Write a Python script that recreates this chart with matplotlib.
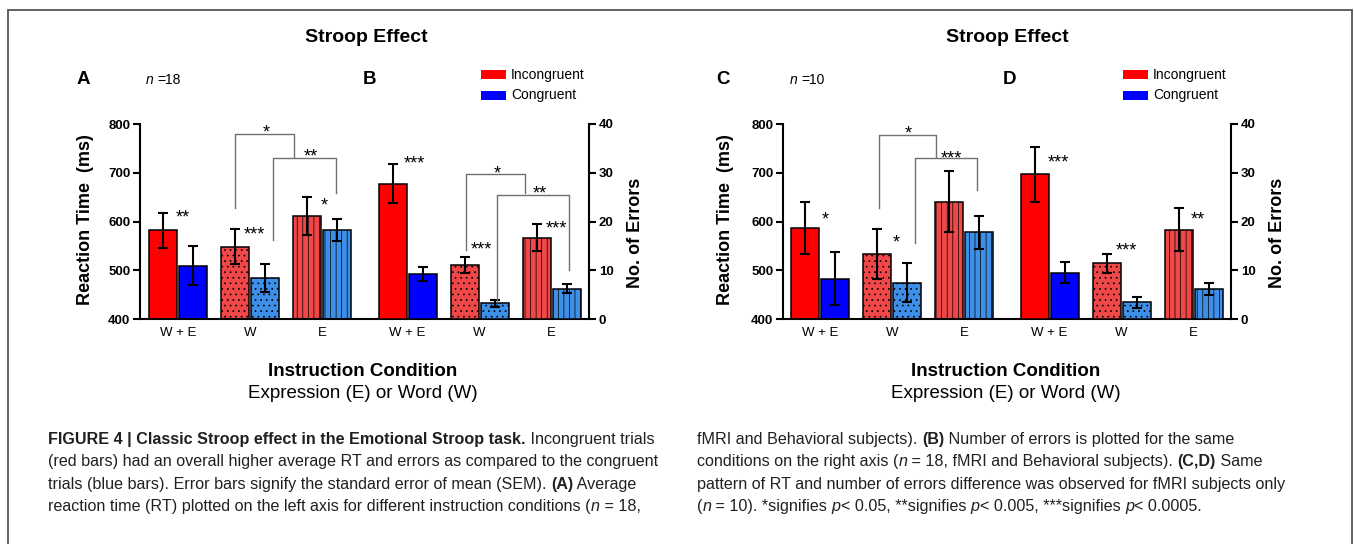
import matplotlib
matplotlib.use("Agg")
import matplotlib.pyplot as plt
import numpy as np
from matplotlib import font_manager
from matplotlib.patches import Rectangle

plt.rcParams['font.family'] = ['Liberation Sans', 'DejaVu Sans']
plt.rcParams['hatch.linewidth'] = 0.5

# -------------------------------------------------------
# DATA
# -------------------------------------------------------
conditions = ['W + E', 'W', 'E']

# n = 18 (panels A, B)
rt18_incong = [582, 548, 612]
rt18_incong_sem = [36, 36, 39]
rt18_cong = [509, 484, 583]
rt18_cong_sem = [40, 29, 23]
err18_incong = [27.7, 11.1, 16.7]
err18_incong_sem = [4.0, 1.6, 2.8]
err18_cong = [9.2, 3.2, 6.2]
err18_cong_sem = [1.4, 0.7, 0.9]

# n = 10 (panels C, D)
rt10_incong = [587, 534, 641]
rt10_incong_sem = [54, 51, 62]
rt10_cong = [483, 474, 578]
rt10_cong_sem = [55, 40, 34]
err10_incong = [29.7, 11.4, 18.3]
err10_incong_sem = [5.6, 1.9, 4.4]
err10_cong = [9.5, 3.4, 6.2]
err10_cong_sem = [2.1, 1.1, 1.2]

# significance stars: (label, x, y) in data units of the RT axis / error axis
stars18_rt = [('**', 0.07, 619), ('***', 1.06, 585), ('*', 2.03, 644)]
stars18_err = [('***', 3.28, 33.0), ('***', 4.22, 15.4), ('***', 5.25, 19.7)]
stars10_rt = [('*', 0.07, 615), ('*', 1.06, 568)]
stars10_err = [('***', 3.31, 33.2), ('***', 4.25, 15.2), ('**', 5.25, 21.5)]

# comparison brackets: x corners, y corners, label, label position
brackets18_rt = [([0.79, 0.79, 1.61, 1.61], [628, 779, 779, 732], '*', (1.22, 794)),
                 ([1.32, 1.32, 2.19, 2.19], [562, 730, 730, 658], '**', (1.85, 745))]
brackets18_err = [([4.0, 4.0, 4.82, 4.82], [14.2, 29.7, 29.7, 25.8], '*', (4.44, 31.0)),
                  ([4.43, 4.43, 5.43, 5.43], [3.5, 25.4, 25.4, 10.1], '**', (5.03, 26.9))]
brackets10_rt = [([0.82, 0.82, 1.61, 1.61], [628, 777, 777, 732], '*', (1.22, 792)),
                 ([1.32, 1.32, 2.18, 2.18], [556, 730, 730, 665], '***', (1.83, 740))]

inc_colors = ['#FF0000', '#F04848', '#F04848']
con_colors = ['#0000FF', '#3D8FE8', '#3D8FE8']
hatches = ['', '...', '|||']

W, H = 1354, 544
fig = plt.figure(figsize=(W / 100, H / 100), dpi=100)


def fx(px):
    return px / W


def fy(py):
    return 1 - py / H


def star(ax, s, x, y):
    # y is the centre of the asterisk glyphs
    ax.annotate(s, (x, y), xytext=(0, -7.5), textcoords='offset points',
                ha='center', va='baseline', fontsize=13, annotation_clip=False)


def panel(left_px, right_px, first_px, rt_i, rt_ie, rt_c, rt_ce, er_i, er_ie, er_c, er_ce,
          stars_rt, stars_err, br_rt, br_err):
    ax = fig.add_axes([fx(left_px), fy(319), (right_px - left_px) / W, 195 / H])
    ax2 = ax.twinx()
    pos_rt = np.arange(3)
    pos_er = np.arange(3) + 3.19
    off, bw = 0.21, 0.39
    groups = [(ax, pos_rt, rt_i, rt_ie, rt_c, rt_ce), (ax2, pos_er, er_i, er_ie, er_c, er_ce)]
    for a, pos, inc, inc_e, con, con_e in groups:
        for i in range(3):
            a.bar(pos[i] - off, inc[i], bw, color=inc_colors[i], edgecolor='black',
                  linewidth=1.1, hatch=hatches[i])
            a.bar(pos[i] + off, con[i], bw, color=con_colors[i], edgecolor='black',
                  linewidth=1.1, hatch=hatches[i])
        a.errorbar(pos - off, inc, yerr=inc_e, fmt='none', ecolor='black',
                   elinewidth=1.5, capsize=3.5, capthick=1.5)
        a.errorbar(pos + off, con, yerr=con_e, fmt='none', ecolor='black',
                   elinewidth=1.5, capsize=3.5, capthick=1.5)

    ax.set_ylim(400, 800)
    ax.set_yticks([400, 500, 600, 700, 800])
    ax2.set_ylim(0, 40)
    ax2.set_yticks([0, 10, 20, 30, 40])
    x0 = (left_px - first_px) / 72
    ax.set_xlim(x0, x0 + (right_px - left_px) / 72)
    ax2.set_xlim(ax.get_xlim())

    ax.set_xticks(np.concatenate([pos_rt, pos_er]))
    ax.set_xticklabels(conditions * 2, fontsize=9.5)
    ax.tick_params(axis='x', length=0, pad=6)
    for a in (ax, ax2):
        a.tick_params(axis='y', direction='out', length=5, width=1.5, labelsize=9.5, pad=2)
        for lab in a.get_yticklabels():
            lab.set_fontweight('bold')
    ax.spines['top'].set_visible(False)
    ax.spines['right'].set_visible(False)
    ax.spines['left'].set_linewidth(1.5)
    ax.spines['bottom'].set_linewidth(1.5)
    for s in ('top', 'left', 'bottom'):
        ax2.spines[s].set_visible(False)
    ax2.spines['right'].set_linewidth(1.5)

    for s, x, y in stars_rt:
        star(ax, s, x, y)
    for s, x, y in stars_err:
        star(ax2, s, x, y)
    for a, brs in ((ax, br_rt), (ax2, br_err)):
        for xs, ys, s, (tx, ty) in brs:
            a.plot(xs, ys, color='#707070', lw=1.0, clip_on=False)
            star(a, s, tx, ty)
    return ax, ax2


panel(140, 589, 178, rt18_incong, rt18_incong_sem, rt18_cong, rt18_cong_sem,
      err18_incong, err18_incong_sem, err18_cong, err18_cong_sem,
      stars18_rt, stars18_err, brackets18_rt, brackets18_err)
panel(783, 1231, 820, rt10_incong, rt10_incong_sem, rt10_cong, rt10_cong_sem,
      err10_incong, err10_incong_sem, err10_cong, err10_cong_sem,
      stars10_rt, stars10_err, brackets10_rt, [])

renderer = fig.canvas.get_renderer()


def rich(x_px, y_px, parts, size, family, color='black'):
    """draw mixed bold/italic text pieces one after the other, on one baseline"""
    x = fx(x_px)
    for s, weight, style in parts:
        t = fig.text(x, fy(y_px), s.rstrip(' '), fontsize=size, fontweight=weight,
                     fontstyle=style, family=family, color=color, va='baseline', ha='left')
        w = t.get_window_extent(renderer).width
        if s.rstrip(' ') == '':
            w = 0
        n_trail = len(s) - len(s.rstrip(' '))
        if n_trail:
            a = fig.text(0, 0, 'a a', fontsize=size, fontweight=weight, family=family)
            b = fig.text(0, 0, 'aa', fontsize=size, fontweight=weight, family=family)
            sp = a.get_window_extent(renderer).width - b.get_window_extent(renderer).width
            a.remove()
            b.remove()
            w += n_trail * sp
        x += w / W


# panel headings
for cx in (366, 1007):
    fig.text(fx(cx), fy(38), 'Stroop Effect', fontsize=14, fontweight='bold', ha='center', va='center')
for letter, cx in (('A', 83), ('B', 369), ('C', 723), ('D', 1009)):
    fig.text(fx(cx), fy(79), letter, fontsize=13.5, fontweight='bold', ha='center', va='center')
rich(146, 83.5, [('n ', 'normal', 'italic'), ('=18', 'normal', 'normal')], 10, ['Liberation Sans'])
rich(790, 83.5, [('n ', 'normal', 'italic'), ('=10', 'normal', 'normal')], 10, ['Liberation Sans'])

# legends
for lx in (481, 1123):
    fig.add_artist(Rectangle((fx(lx), fy(79)), 25 / W, 9 / H, transform=fig.transFigure,
                             facecolor='#FF0000', edgecolor='none'))
    fig.add_artist(Rectangle((fx(lx), fy(100)), 25 / W, 9 / H, transform=fig.transFigure,
                             facecolor='#0000FF', edgecolor='none'))
    fig.text(fx(lx + 30), fy(74.5), 'Incongruent', fontsize=10, va='center')
    fig.text(fx(lx + 30), fy(95.5), 'Congruent', fontsize=10, va='center')

# axis labels
for cx in (85, 725):
    fig.text(fx(cx), fy(220), 'Reaction Time  (ms)', rotation=90, fontsize=13,
             fontweight='bold', ha='center', va='center')
for cx in (636, 1278):
    fig.text(fx(cx), fy(233), 'No. of Errors', rotation=90, fontsize=13,
             fontweight='bold', ha='center', va='center')
for cx in (363, 1006):
    fig.text(fx(cx), fy(372), 'Instruction Condition', fontsize=13.5, fontweight='bold',
             ha='center', va='center')
    fig.text(fx(cx), fy(393), 'Expression (E) or Word (W)', fontsize=13.5,
             ha='center', va='center')

# frame
fig.add_artist(Rectangle((fx(8), -0.05), (1352 - 8) / W, fy(10) + 0.05, transform=fig.transFigure,
                         fill=False, edgecolor='#555555', linewidth=1.3))

# caption
try:
    font_manager.findfont(font_manager.FontProperties(family='Liberation Sans Narrow'),
                          fallback_to_default=False)
    cap_family = ['Liberation Sans Narrow', 'DejaVu Sans']
    cap_size = 13.5
except Exception:
    cap_family = ['Liberation Sans', 'DejaVu Sans']
    cap_size = 11.6

N, B, I = 'normal', 'bold', 'italic'
left_lines = [
    [('FIGURE 4 | Classic Stroop effect in the Emotional Stroop task.', B, N),
     (' Incongruent trials', N, N)],
    [('(red bars) had an overall higher average RT and errors as compared to the congruent', N, N)],
    [('trials (blue bars). Error bars signify the standard error of mean (SEM). ', N, N),
     ('(A)', B, N), (' Average', N, N)],
    [('reaction time (RT) plotted on the left axis for different instruction conditions (', N, N),
     ('n', N, I), (' = 18,', N, N)],
]
right_lines = [
    [('fMRI and Behavioral subjects). ', N, N), ('(B)', B, N),
     (' Number of errors is plotted for the same', N, N)],
    [('conditions on the right axis (', N, N), ('n', N, I),
     (' = 18, fMRI and Behavioral subjects). ', N, N), ('(C,D)', B, N), (' Same', N, N)],
    [('pattern of RT and number of errors difference was observed for fMRI subjects only', N, N)],
    [('(', N, N), ('n', N, I), (' = 10). *signifies ', N, N), ('p', N, I),
     ('< 0.05, **signifies ', N, N), ('p', N, I), ('< 0.005, ***signifies ', N, N),
     ('p', N, I), ('< 0.0005.', N, N)],
]
# baselines of the caption lines
line_y = [444, 466, 489, 511]
for parts, y in zip(left_lines, line_y):
    rich(48, y, parts, cap_size, cap_family, color='#231F20')
for parts, y in zip(right_lines, line_y):
    rich(697, y, parts, cap_size, cap_family, color='#231F20')

fig.savefig('out.png', dpi=100)
